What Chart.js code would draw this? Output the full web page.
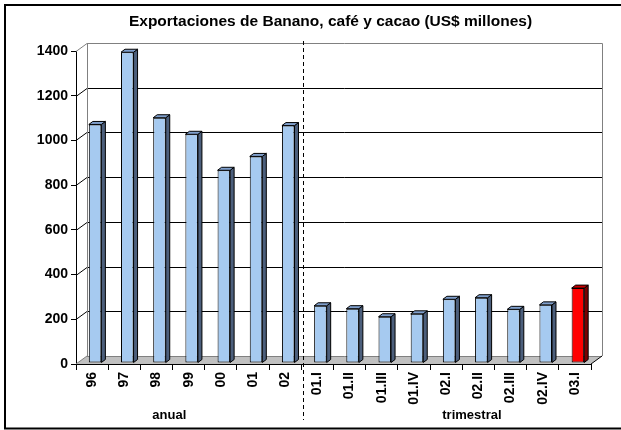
<!DOCTYPE html>
<html>
<head>
<meta charset="utf-8">
<script src="https://cdn.jsdelivr.net/npm/chart.js@4"></script>
<style>
  html, body { margin: 0; padding: 0; background: #fff; overflow: hidden; }
  #wrap { width: 621px; height: 430px; }
</style>
</head>
<body>
<div id="wrap"><canvas id="chart" width="621" height="430"></canvas></div>
<script>
const titulo = "Exportaciones de Banano, café y cacao (US$ millones)";
const anios = ["96", "97", "98", "99", "00", "01", "02"];
const valoresAnuales = [1067, 1390, 1097, 1023, 862, 924, 1062];
const trimestres = ["01.I", "01.II", "01.III", "01.IV", "02.I", "02.II", "02.III", "02.IV", "03.I"];
const valoresTrimestrales = [256, 243, 207, 220, 285, 292, 240, 260, 335];
const yTicks = [0, 200, 400, 600, 800, 1000, 1200, 1400];

const labels = anios.concat(trimestres);
const valores = valoresAnuales.concat(valoresTrimestrales);
const ultimo = valores.length - 1;

const FONT = "Arial, 'Liberation Sans', sans-serif";
const DX = 11, DY = -8;   // profundidad de las paredes
const BDX = 4, BDY = -3;  // profundidad de las barras

function poly(ctx, pts, fill, stroke) {
    ctx.beginPath();
    ctx.moveTo(pts[0][0], pts[0][1]);
    for (let i = 1; i < pts.length; i++) ctx.lineTo(pts[i][0], pts[i][1]);
    ctx.closePath();
    if (fill) { ctx.fillStyle = fill; ctx.fill(); }
    if (stroke) { ctx.strokeStyle = stroke; ctx.lineWidth = 1; ctx.stroke(); }
}

function line(ctx, x1, y1, x2, y2, color) {
    ctx.beginPath();
    ctx.moveTo(x1, y1);
    ctx.lineTo(x2, y2);
    ctx.strokeStyle = color;
    ctx.lineWidth = 1;
    ctx.stroke();
}

const efecto3d = {
    id: "efecto3d",
    beforeDatasetsDraw(chart) {
        const { ctx, chartArea: a, scales: { y } } = chart;
        const L = a.left, R = a.right, B = a.bottom;

        ctx.save();
        // piso
        poly(ctx, [[L, B], [R, B], [R + DX, B + DY], [L + DX, B + DY]], "#c0c0c0", null);
        line(ctx, L + DX, B + DY + 0.5, R + DX, B + DY + 0.5, "#808080");
        line(ctx, R, B, R + DX, B + DY, "#000");

        // lineas de cuadricula en la pared del fondo
        yTicks.forEach((v) => {
            if (v === 0) return;
            const yy = Math.round(y.getPixelForValue(v)) + 0.5;
            const top = v === yTicks[yTicks.length - 1];
            const col = top ? "#808080" : "#000";
            line(ctx, L + DX, yy + DY, R + DX + 0.5, yy + DY, col);
            line(ctx, L, yy, L + DX, yy + DY, col);
        });

        // bordes de las paredes
        const yt = Math.round(y.getPixelForValue(yTicks[yTicks.length - 1])) + 0.5 + DY;
        line(ctx, L + DX + 0.5, yt, L + DX + 0.5, B + DY, "#808080");
        line(ctx, R + DX + 0.5, yt, R + DX + 0.5, B + DY, "#808080");
        line(ctx, L, B, L + DX, B + DY, "#808080");
        ctx.restore();

        ctx.save();
        ctx.translate(3, -1);
    },
    afterDatasetsDraw(chart) {
        const { ctx, scales: { x } } = chart;
        const meta = chart.getDatasetMeta(0);

        meta.data.forEach((bar, i) => {
            const p = bar.getProps(["x", "y", "base", "width"], true);
            const l = p.x - p.width / 2, r = p.x + p.width / 2;
            const rojo = i === ultimo;
            poly(ctx, [[r, p.y], [r + BDX, p.y + BDY], [r + BDX, p.base + BDY], [r, p.base]],
                rojo ? "#7a0000" : "#4c5f7c", "#000");
            poly(ctx, [[l, p.y], [l + BDX, p.y + BDY], [r + BDX, p.y + BDY], [r, p.y]],
                rojo ? "#c80000" : "#7f9fcc", "#000");
        });
        ctx.restore();

        ctx.save();
        // separador anual / trimestral
        const xs = Math.round(x.getPixelForValue(anios.length - 0.5) + 2) + 0.5;
        ctx.setLineDash([4, 3]);
        line(ctx, xs, 41, xs, 420, "#000");
        ctx.setLineDash([]);

        ctx.fillStyle = "#000";
        ctx.textAlign = "center";
        ctx.textBaseline = "middle";
        ctx.font = "bold 13px " + FONT;
        ctx.fillText("anual", x.getPixelForValue(2.4), 415);
        ctx.fillText("trimestral", x.getPixelForValue(11.8), 415);

        ctx.font = "bold 15.5px " + FONT;
        ctx.fillText(titulo, 330.5, 21.5);

        // marco del grafico
        ctx.lineWidth = 2;
        ctx.strokeStyle = "#000";
        ctx.strokeRect(5, 5, 700, 423.5);
        ctx.restore();
    }
};

new Chart(document.getElementById("chart"), {
    type: "bar",
    data: {
        labels: labels,
        datasets: [{
            data: valores,
            backgroundColor: (c) => (c.dataIndex === ultimo ? "#ff0000" : "#a6caf0"),
            borderColor: "#000",
            borderWidth: 1,
            borderSkipped: false,
            categoryPercentage: 1,
            barPercentage: 0.39
        }]
    },
    options: {
        responsive: false,
        animation: false,
        layout: { padding: { top: 51, right: 30, bottom: 0, left: 0 } },
        plugins: {
            legend: { display: false },
            tooltip: { enabled: false }
        },
        scales: {
            x: {
                grid: { drawOnChartArea: false, drawTicks: true, tickLength: 6, color: "#000" },
                border: { display: true, color: "#000", width: 1 },
                ticks: {
                    autoSkip: false,
                    minRotation: 90,
                    maxRotation: 90,
                    padding: 2,
                    color: "#000",
                    font: { family: FONT, size: 14, weight: "bold" }
                },
                afterFit(scale) { scale.height = 66; }
            },
            y: {
                min: 0,
                max: 1400,
                afterBuildTicks(scale) { scale.ticks = yTicks.map((v) => ({ value: v })); },
                grid: { drawOnChartArea: false, drawTicks: true, tickLength: 5, color: "#000" },
                border: { display: true, color: "#000", width: 1 },
                ticks: {
                    padding: 3,
                    color: "#000",
                    font: { family: FONT, size: 14, weight: "bold" },
                    callback: (v) => String(v)
                },
                afterFit(scale) { scale.width = 76; }
            }
        }
    },
    plugins: [efecto3d]
});
</script>
</body>
</html>
